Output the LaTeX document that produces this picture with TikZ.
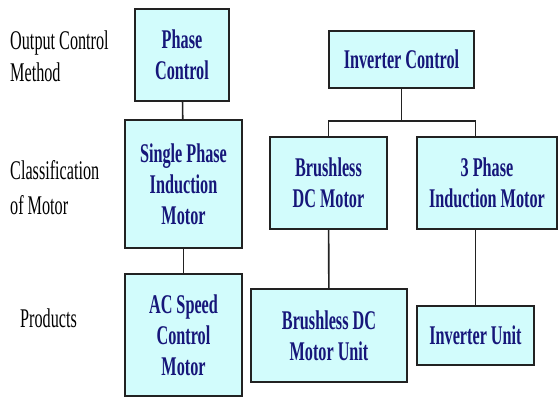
\documentclass[tikz,border=0pt]{standalone}
\usepackage{fontspec}
\setmainfont[FakeStretch=0.6]{Liberation Serif}
\usepackage{xcolor}
\usetikzlibrary{positioning,calc}

\definecolor{boxfill}{HTML}{D2FCFC}
\definecolor{boxtext}{HTML}{16167A}
\definecolor{boxline}{HTML}{222222}

\begin{document}
\begin{tikzpicture}[
    x=1pt, y=-1pt,
    unit/.style={
        rectangle, draw=boxline, fill=boxfill, line width=1.6pt,
        inner sep=0pt, align=center, text=boxtext,
        font=\fontsize{27}{31}\selectfont\bfseries
    },
    rowlabel/.style={
        anchor=west, align=left, inner sep=0pt,
        font=\fontsize{27}{32}\selectfont
    },
    link/.style={line width=1.6pt, draw=boxline},
]
\useasboundingbox (0,0) rectangle (558,398);

% Row labels
\node[rowlabel] (lblout) at (10,56) {Output Control\\Method};
\node[rowlabel] (lblcls) at (10,188) {Classification\\[3pt]of Motor};
\node[rowlabel] (lblprod) at (20,318) {Products};

% Phase control branch
\node[unit, minimum width=94, minimum height=92] (phase) at (182,55) {Phase\\Control};
\node[unit, minimum width=117, minimum height=128] (single) at (183.5,184) {Single Phase\\Induction\\Motor};
\node[unit, minimum width=117, minimum height=122] (acspeed) at (183.5,335) {AC Speed\\Control\\Motor};

% Inverter control branch
\node[unit, minimum width=145, minimum height=57] (inverter) at (401.5,59.5) {Inverter Control};
\node[unit, minimum width=117, minimum height=92] (brushless) at (328.5,183) {Brushless\\DC Motor};
\node[unit, minimum width=140, minimum height=92] (threephase) at (487,183) {3 Phase\\Induction Motor};
\node[unit, minimum width=156, minimum height=93] (bdcunit) at (329,335.5) {Brushless DC\\Motor Unit};
\node[unit, minimum width=117, minimum height=59] (invunit) at (475.5,335.5) {Inverter Unit};

% Links
\draw[link] (phase) -- (single);
\draw[link] (single) -- (acspeed);

\draw[link] (inverter.south) -- ++(0,32) coordinate (fork);
\draw[link] (brushless.north) |- (fork) -| (threephase.north -| invunit.north);
\draw[link] (brushless) -- (bdcunit);
\draw[link] (threephase.south -| invunit.north) -- (invunit.north);
\end{tikzpicture}
\end{document}
